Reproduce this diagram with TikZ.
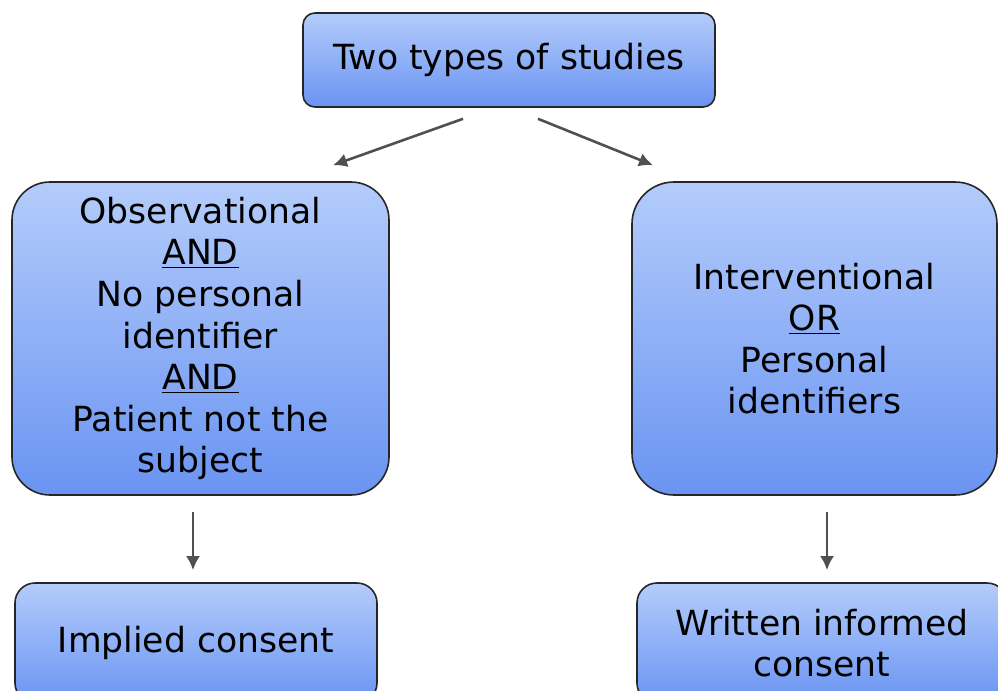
\documentclass[tikz,border=0pt]{standalone}
\usepackage{fontspec}
\setmainfont{DejaVu Sans}
\usetikzlibrary{arrows.meta}
\definecolor{boxtop}{RGB}{180,204,251}
\definecolor{boxbottom}{RGB}{106,148,242}
\definecolor{arrowgray}{RGB}{80,80,80}
\tikzset{%
  >={Latex[width=7pt,length=7pt]},
  % Specifications for style of nodes:
         base/.style = {rectangle, draw=black!85, line width=0.8pt,
                        top color=boxtop, bottom color=boxbottom,
                        inner sep=0pt, text centered, align=center,
                        font=\fontsize{17.3}{20.8}\selectfont},
     question/.style = {base, rounded corners=6pt,
                        minimum width=206pt, minimum height=47pt},
    condition/.style = {base, rounded corners=19pt, minimum height=156.5pt},
      consent/.style = {base, rounded corners=10pt, minimum height=60pt},
    connector/.style = {->, draw=arrowgray, line width=1.3pt},
}

\begin{document}
\begin{tikzpicture}[x=0.5pt, y=-0.5pt]
  \useasboundingbox (0,0) rectangle (998,691);
  \clip (0,0) rectangle (998,691);
  % Specification of nodes (position, etc.)
  \node (types)   [question] at (509,60) {Two types of studies};
  \node (observ)  [condition, minimum width=188.5pt] at (200.5,338.5)
        {Observational\\\underline{AND}\\No personal\\identifier\\
         \underline{AND}\\Patient not the\\subject};
  \node (interv)  [condition, minimum width=182.5pt, rounded corners=21pt]
        at (814.5,338.5)
        {Interventional\\\underline{OR}\\Personal\\identifiers};
  \node (implied) [consent, minimum width=181pt] at (196,643) {Implied consent};
  \node (written) [consent, minimum width=185pt] at (822,643)
        {Written informed\\consent};
  % Specification of lines between nodes specified above
  \draw[connector] ([shift={(-46,11)}]types.south)
                -- ([shift={(132.5,-16)}]observ.north);
  \draw[connector] ([shift={(29,11)}]types.south)
                -- ([shift={(-161.5,-16)}]interv.north);
  \draw[connector] ([shift={(-7.5,16)}]observ.south)
                -- ([shift={(-3,-12)}]implied.north);
  \draw[connector] ([shift={(12.5,16)}]interv.south)
                -- ([shift={(5,-12)}]written.north);
\end{tikzpicture}
\end{document}
